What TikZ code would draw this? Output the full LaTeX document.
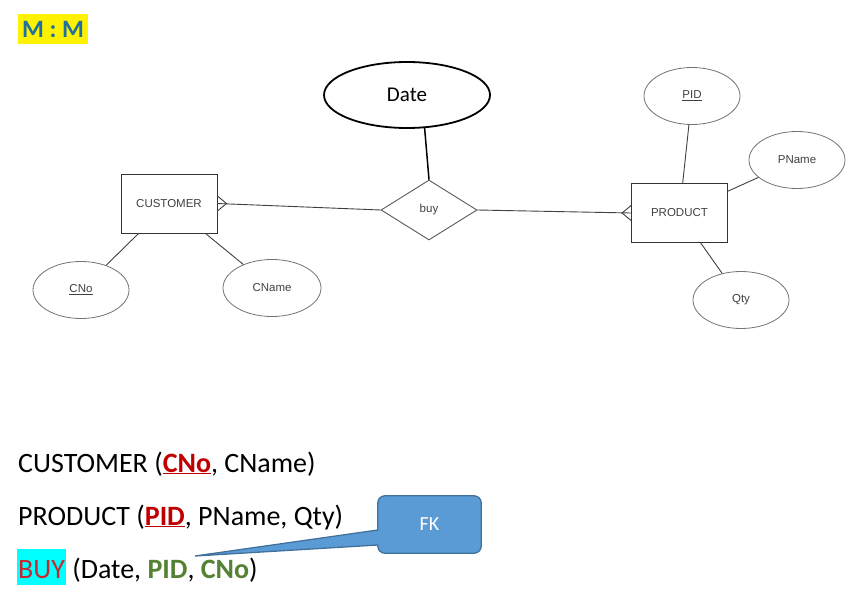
\documentclass[tikz,border=0pt]{standalone}
\usepackage{fontspec}
\setmainfont{Carlito}
\newfontfamily\arialfont{Liberation Sans}
\usetikzlibrary{shapes.geometric,calc}
\definecolor{mmblue}{HTML}{1F6F9F}
\definecolor{pkred}{HTML}{C00000}
\definecolor{buyred}{HTML}{C8282D}
\definecolor{fkgreen}{HTML}{548235}
\definecolor{hlcyan}{HTML}{00FFFF}
\definecolor{calloutfill}{HTML}{5B9BD5}
\definecolor{calloutdraw}{HTML}{41719C}
\begin{document}
\begin{tikzpicture}[x=1pt, y=-1pt,
    erfont/.style={font=\arialfont\fontsize{11.5}{13}\selectfont, text=black!75},
    entity/.style={draw=black!80, line width=0.9pt, minimum width=96pt, minimum height=59pt, inner sep=0pt, erfont},
    attr/.style={ellipse, draw=black!55, line width=0.8pt, minimum width=96pt, minimum height=57pt, inner sep=0pt, erfont},
    relship/.style={diamond, draw=black!65, line width=0.9pt, minimum width=96pt, minimum height=60pt, inner sep=0pt, erfont},
    link/.style={draw=black!75, line width=0.9pt},
    relline/.style={anchor=base west, inner sep=0pt, font=\fontsize{28}{32}\selectfont}]
    \useasboundingbox (0,0) rectangle (855,597);

    % title
    \node[fill=yellow, text=mmblue, font=\bfseries\fontsize{25}{28}\selectfont, minimum width=70pt, minimum height=30pt, inner sep=0pt] (title) at (53,29) {M : M};

    % ER diagram
    \node[entity] (cust) at (169,203.5) {CUSTOMER};
    \node[entity] (prod) at (679.5,213) {PRODUCT};
    \node[relship] (buy) at (429,210) {buy};
    \node[ellipse, draw=black, line width=1.8pt, minimum width=166pt, minimum height=66pt, font=\fontsize{21}{24}\selectfont] (date) at (407,95) {Date};
    \node[attr] (cno) at (81,290) {\underline{CNo}};
    \node[attr, minimum width=98pt] (cname) at (272,288) {CName};
    \node[attr] (pid) at (692,96) {\underline{PID}};
    \node[attr] (pname) at (797,160) {PName};
    \node[attr] (qty) at (741,300) {Qty};

    \draw[link] (cust) -- (cno);
    \draw[link] (cust) -- (cname);
    \draw[link] (prod) -- (pid);
    \draw[link] (prod) -- (pname);
    \draw[link] (prod) -- (qty);
    \draw[link, draw=black, line width=1.5pt] (date.-62) -- (buy.north);

    % many side (crow's feet)
    \coordinate (custfoot) at ($(cust.east)+(9,0)$);
    \coordinate (prodfoot) at ($(prod.west)+(-9,0)$);
    \draw[link] (cust.east) -- (buy.west);
    \draw[link] ($(cust.east)+(0,-7.5)$) -- (custfoot) -- ($(cust.east)+(0,7.5)$);
    \draw[link] (buy.east) -- (prod.west);
    \draw[link] ($(prod.west)+(0,-7.5)$) -- (prodfoot) -- ($(prod.west)+(0,7.5)$);

    % relations
    \node[relline] (custrel) at (18,472) {CUSTOMER ({\color{pkred}\underline{\textbf{CNo}}}, CName)};
    \node[relline] (prodrel) at (18,525) {PRODUCT ({\color{pkred}\underline{\textbf{PID}}}, PName, Qty)};
    \node[relline] (buyrel) at (17,578) {{\setlength{\fboxsep}{1pt}\colorbox{hlcyan}{\rule[-6pt]{0pt}{34pt}\color{buyred}BUY}} (Date, {\color{fkgreen}\textbf{PID}}, {\color{fkgreen}\textbf{CNo}})};

    % FK callout
    \node[minimum width=103pt, minimum height=57pt, inner sep=0pt] (fk) at (429.5,524.5) {};
    \coordinate (fktip) at (195,556);
    \draw[fill=calloutfill, draw=calloutdraw, line width=1.3pt]
        ($(fk.west)+(0,5.5)$) [rounded corners=7pt] -- (fk.north west) -- (fk.north east) -- (fk.south east) -- (fk.south west)
        [sharp corners] -- ($(fk.west)+(0,20.5)$) -- (fktip) -- cycle;
    \node[text=white, font=\fontsize{20}{24}\selectfont] (fklabel) at (fk) {FK};
\end{tikzpicture}
\end{document}
